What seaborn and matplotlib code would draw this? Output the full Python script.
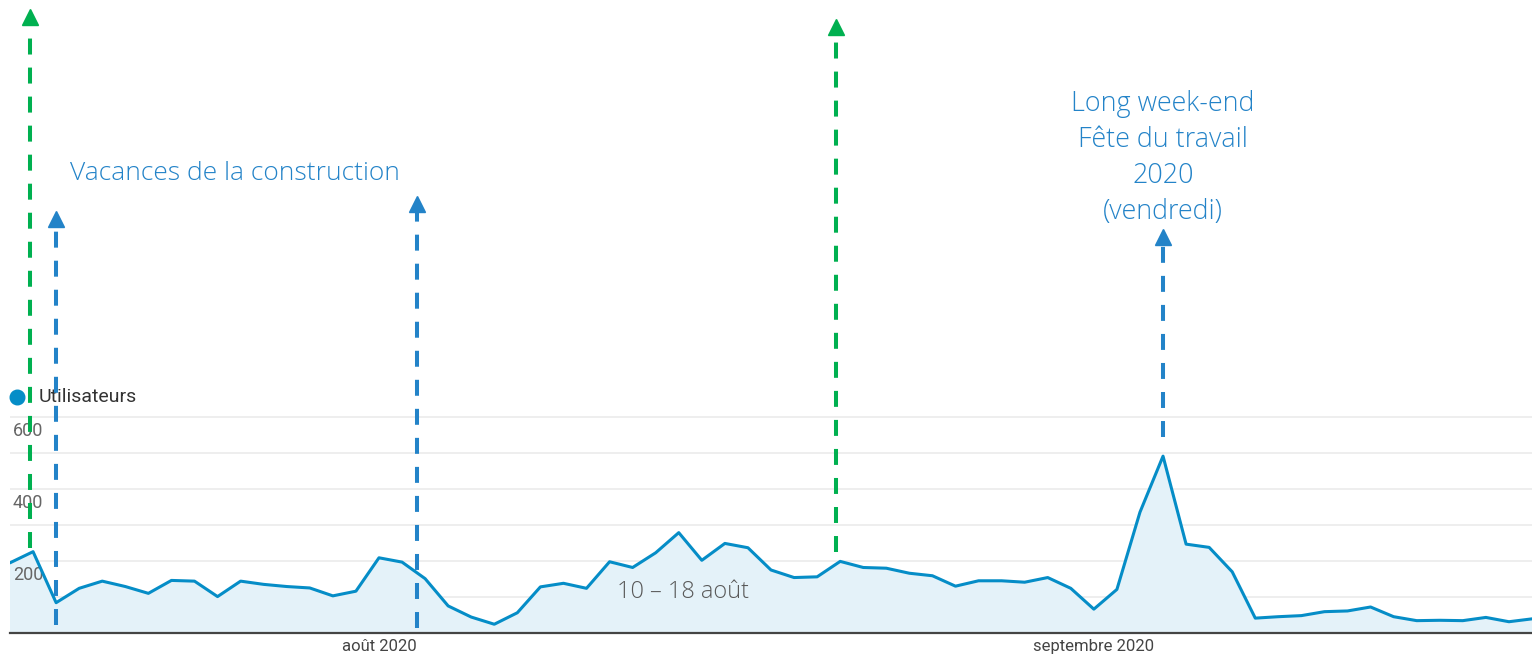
import pandas as pd
import matplotlib
matplotlib.use('Agg')
import matplotlib.pyplot as plt
import matplotlib.dates as mdates
import seaborn as sns

# daily users, 16 July -> 20 Sept 2020
dates = pd.date_range('2020-07-16', '2020-09-20', freq='D')
users = [194, 225, 83, 123, 143, 128, 109, 145, 143, 100,
         143, 134, 128, 124, 102, 115, 208, 196, 150, 74,
         43, 23, 55, 127, 137, 123, 197, 181, 222, 278,
         201, 248, 236, 174, 153, 155, 198, 181, 179, 165,
         158, 129, 144, 144, 140, 153, 123, 65, 120, 335,
         491, 246, 237, 169, 40, 44, 47, 58, 60, 71,
         44, 33, 34, 33, 42, 30, 38]

grid_vals = [100, 200, 300, 400, 500, 600]
ylabels = [200, 400, 600]
month_ticks = ['2020-08-01', '2020-09-01']
month_labels = ['août 2020', 'septembre 2020']

# annotation arrows: (x, bottom, tip)
green_arrows = [('2020-07-16 21:00', 235, 1736), ('2020-08-20 19:40', 225, 1708)]
blue_arrows = [('2020-07-18', 21, 1171), ('2020-08-02 15:30', 12, 1213), ('2020-09-04', 544, 1121)]

line_col = '#058DC7'
fill_col = '#E4F2F9'
green = '#00B050'
blue = '#2383C8'

df = pd.DataFrame({'date': dates, 'users': users})

sns.set_style('white')
plt.rcParams['font.family'] = ['Roboto', 'DejaVu Sans']
plt.rcParams['lines.scale_dashes'] = False

fig = plt.figure(figsize=(15.32, 6.56), dpi=100)
ax = fig.add_axes([10 / 1532, 23.5 / 656, 1522 / 1532, 632.5 / 656])

ax.fill_between(df['date'], df['users'], 0, color=fill_col, zorder=1)
sns.lineplot(data=df, x='date', y='users', ax=ax, color=line_col, lw=2.2, zorder=3)

d0 = mdates.date2num(dates[0])
ax.set_xlim(d0, d0 + 66)
ax.set_ylim(0, 1761)

ax.set_yticks(grid_vals)
ax.set_yticklabels([])
ax.yaxis.grid(True, color='#EBEBEB', lw=1.2)
ax.tick_params(axis='y', length=0)
ax.set_xticks(pd.to_datetime(month_ticks))
ax.set_xticklabels(month_labels, fontsize=12, color='#444444')
ax.tick_params(axis='x', length=0, pad=5)
ax.set_xlabel('')
ax.set_ylabel('')

for s in ['top', 'right', 'left']:
    ax.spines[s].set_visible(False)
ax.spines['bottom'].set_color('#444444')
ax.spines['bottom'].set_linewidth(1.6)
ax.spines['bottom'].set_zorder(4)

ytr = ax.get_yaxis_transform()
for v in ylabels:
    ax.text(0.002, v - 39, str(v), transform=ytr, fontsize=13, color='#666666',
            va='center', ha='left', zorder=2)

# legend
ax.plot([0.0046], [655], 'o', transform=ytr, color=line_col, ms=10.5, clip_on=False)
ax.text(0.0185, 655, 'Utilisateurs', transform=ytr, fontsize=14, color='#333333',
        va='center', ha='left')

def arrow(x, bottom, tip, col):
    xn = mdates.date2num(pd.to_datetime(x))
    ax.plot([xn, xn], [bottom, tip - 30], color=col, lw=2.9, dashes=(11.5, 9.4),
            solid_capstyle='butt', dash_capstyle='butt', zorder=5, clip_on=False)
    ax.plot([xn], [tip - 21], marker='^', color=col, ms=11.5, zorder=5, clip_on=False)

for x, b, t in green_arrows:
    arrow(x, b, t, green)
for x, b, t in blue_arrows:
    arrow(x, b, t, blue)

afont = ['Open Sans', 'DejaVu Sans']
ax.text(0.0395, 1279, 'Vacances de la construction', transform=ytr, family=afont,
        fontweight='light', fontsize=19, color=blue, va='center', ha='left')
ax.text(mdates.date2num(pd.to_datetime('2020-09-04')), 1320,
        'Long week-end\nFête du travail\n2020\n(vendredi)', family=afont,
        fontweight='light', fontsize=19.4, color=blue, va='center', ha='center',
        linespacing=1.38)
ax.text(0.442, 113, '10 – 18 août', transform=ytr, family=afont, fontweight='light',
        fontsize=16.9, color='#595959', va='center', ha='center', zorder=6)

fig.savefig('out.png', dpi=100)
